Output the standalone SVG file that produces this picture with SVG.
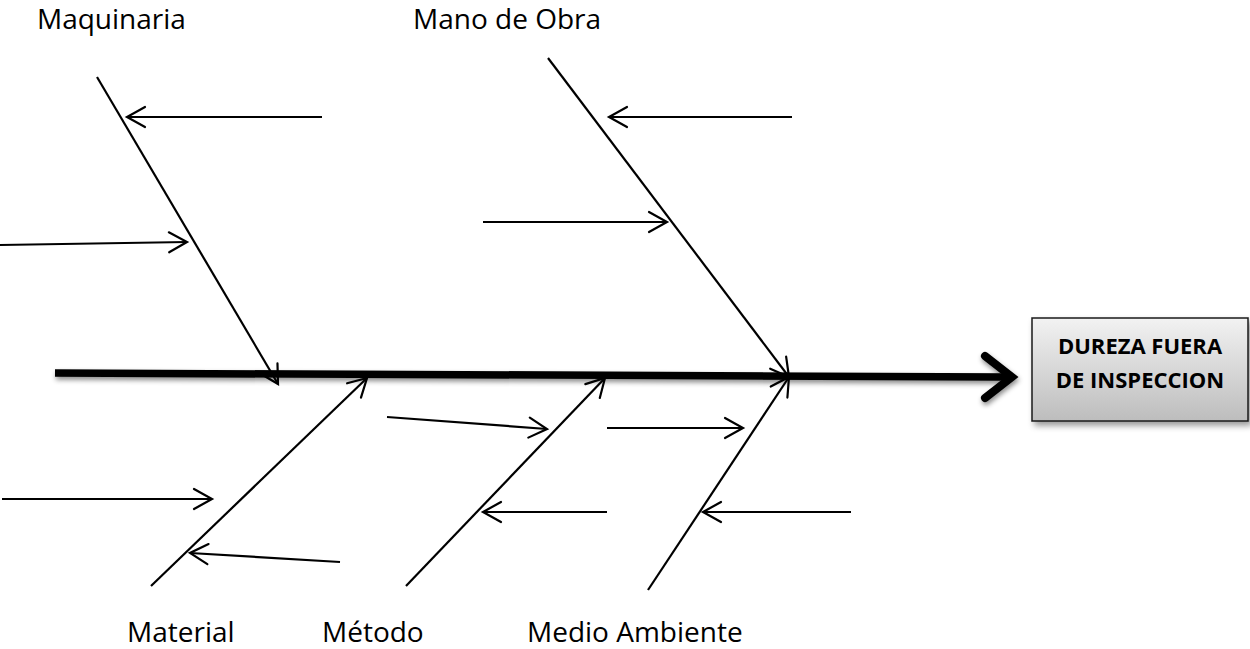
<svg xmlns="http://www.w3.org/2000/svg" width="1250" height="649" viewBox="0 0 1250 649">
<style>
.bone{stroke:#000;stroke-width:2;fill:none}
.sub{stroke:#000;stroke-width:2.2;fill:none;marker-end:url(#ah)}
.lbl{font-family:"Open Sans","DejaVu Sans",sans-serif;font-size:28px;fill:#000}
.box{font-family:"Open Sans","DejaVu Sans",sans-serif;font-size:22px;font-weight:700;fill:#000;text-anchor:middle}
</style>
<defs>
<marker id="ah" markerUnits="userSpaceOnUse" markerWidth="30" markerHeight="30" viewBox="-25 -15 30 30" refX="0" refY="0" orient="auto">
<path d="M-18,-10 L0,0 L-18,10" fill="none" stroke="#000" stroke-width="2.2" stroke-linecap="round"/>
</marker>
<linearGradient id="g" x1="0" y1="0" x2="0" y2="1">
<stop offset="0" stop-color="#f2f2f2"/>
<stop offset="1" stop-color="#bdbdbd"/>
</linearGradient>
<filter id="sh" x="-10%" y="-50%" width="120%" height="250%">
<feDropShadow dx="1" dy="3" stdDeviation="2.5" flood-color="#000" flood-opacity="0.45"/>
</filter>
<filter id="sh2" x="-10%" y="-10%" width="130%" height="130%">
<feDropShadow dx="3" dy="4" stdDeviation="3" flood-color="#000" flood-opacity="0.4"/>
</filter>
</defs>

<g id="connectors">
<g id="spine" filter="url(#sh)">
<line x1="55" y1="373" x2="1006" y2="377" stroke="#000" stroke-width="7.5"/>
<path d="M985,356 L1012,377 L985,398" fill="none" stroke="#000" stroke-width="8" stroke-linecap="round" stroke-linejoin="miter"/>
</g>
<line class="sub" x1="97" y1="77" x2="278" y2="384"/>
<line class="sub" x1="548" y1="58" x2="789" y2="377"/>
<line class="sub" x1="151" y1="586" x2="367" y2="378"/>
<line class="sub" x1="406" y1="586" x2="605" y2="378"/>
<line class="sub" x1="648" y1="590" x2="789" y2="377"/>

<line class="sub" x1="322" y1="117" x2="127" y2="117"/>
<line class="sub" x1="0" y1="245" x2="187" y2="242"/>
<line class="sub" x1="792" y1="117" x2="609" y2="117"/>
<line class="sub" x1="483" y1="222" x2="667" y2="222"/>
<line class="sub" x1="2" y1="499" x2="212" y2="499"/>
<line class="sub" x1="340" y1="562" x2="190" y2="553"/>
<line class="sub" x1="387" y1="417" x2="547" y2="429"/>
<line class="sub" x1="607" y1="512" x2="483" y2="512"/>
<line class="sub" x1="607" y1="428" x2="743" y2="428"/>
<line class="sub" x1="851" y1="512" x2="703" y2="512"/>
</g>

<g id="effect">
<rect x="1032" y="318" width="216" height="103" fill="url(#g)" stroke="#1a1a1a" stroke-width="1.5" filter="url(#sh2)"/>
<text class="box" x="1140" y="354">DUREZA FUERA</text>
<text class="box" x="1140" y="388">DE INSPECCION</text>
</g>

<g id="maquinaria"><text class="lbl" x="37" y="29">Maquinaria</text></g>
<g id="mano-de-obra"><text class="lbl" x="413" y="29">Mano de Obra</text></g>
<g id="material"><text class="lbl" x="127" y="642">Material</text></g>
<g id="metodo"><text class="lbl" x="322" y="642">Método</text></g>
<g id="medio-ambiente"><text class="lbl" x="527" y="642">Medio Ambiente</text></g>
</svg>
